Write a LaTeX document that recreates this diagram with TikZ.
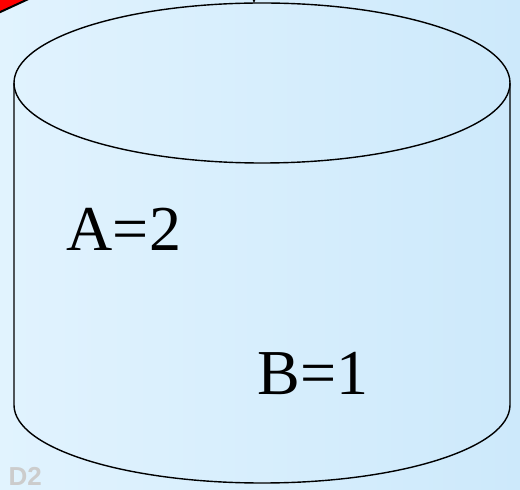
\documentclass[tikz,border=0pt]{standalone}
\usepackage{fontspec}
\setmainfont{Liberation Serif}
\newfontfamily\labelsans{Liberation Sans}
\usetikzlibrary{arrows.meta}
\definecolor{bgleft}{HTML}{E1F3FE}
\definecolor{bgright}{HTML}{CDE9FB}
\definecolor{mark}{HTML}{CCCCCC}
\begin{document}
\begin{tikzpicture}[x=1pt,y=1pt,line width=1.4pt,
  val/.style={anchor=base west,inner sep=0pt,font=\fontsize{64}{70}\selectfont}]
\useasboundingbox (0,0) rectangle (520,490);
\clip (0,0) rectangle (520,490);
\shade[left color=bgleft,right color=bgright] (0,0) rectangle (520,490);

% red piece coming in at the top left
\filldraw[fill=red,draw=black,line width=2pt] (-30,464) -- (35,494) -- (-30,494) -- cycle;

% the database
\draw (14,407) -- (14,85) arc (180:360:248 and 78) -- (510,407);
\draw (262,407) ellipse (248 and 80);
\coordinate (dbtop) at (254,487);
\coordinate (incoming) at (254,510);
\draw[-{Stealth[length=6pt,width=5pt]}] (incoming) -- (dbtop);

\node[val] (a) at (66,239) {A=2};
\node[val] (b) at (257,95) {B=1};

\node[anchor=base west,inner sep=0pt,text=mark,font=\labelsans\bfseries\fontsize{26}{30}\selectfont] (disk) at (8,4) {D2};
\end{tikzpicture}
\end{document}
